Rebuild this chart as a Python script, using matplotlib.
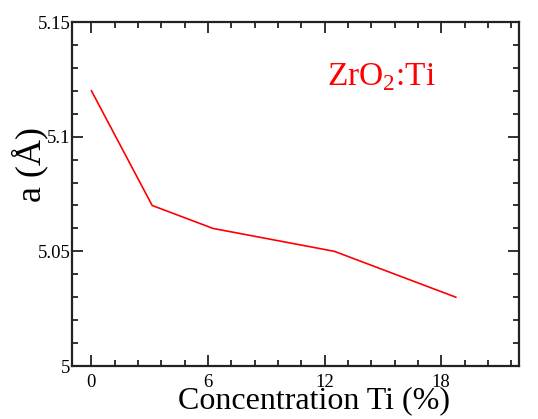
import matplotlib
matplotlib.use("Agg")
import matplotlib.pyplot as plt
from matplotlib.ticker import MultipleLocator

plt.rcParams['font.family'] = ['Liberation Serif', 'DejaVu Serif']
plt.rcParams['mathtext.fontset'] = 'custom'
plt.rcParams['mathtext.rm'] = 'Liberation Serif'

concentration = [0, 3.125, 6.25, 12.5, 18.75]
lattice_a = [5.12, 5.07, 5.06, 5.05, 5.03]
x_ticks = [0, 6, 12, 18]
y_ticks = [5, 5.05, 5.1, 5.15]
y_tick_labels = ["5", "5.05", "5.1", "5.15"]

W, H = 538, 419
fig = plt.figure(figsize=(W/100, H/100), dpi=100)
ax = fig.add_axes([72/W, 1-366/H, (519-72)/W, (366-22)/H])

ax.plot(concentration, lattice_a, color='red', lw=1.2)
ax.set_xlim(-1, 22)
ax.set_ylim(5, 5.15)
ax.set_xticks(x_ticks)
ax.set_xticklabels([str(t) for t in x_ticks])
ax.set_yticks(y_ticks)
ax.set_yticklabels(y_tick_labels)
ax.xaxis.set_minor_locator(MultipleLocator(1.2))
ax.yaxis.set_minor_locator(MultipleLocator(0.01))

for s in ax.spines.values():
    s.set_linewidth(1.6)
    s.set_color('#222222')
ax.tick_params(which='both', direction='in', top=True, right=True, width=1.3, color='#222222')
ax.tick_params(which='major', length=8, labelsize=13.5, pad=4)
ax.tick_params(which='minor', length=4.5)
ax.tick_params(axis='y', which='major', pad=1)
ax.tick_params(axis='x', which='major', pad=6)

fig.text(313.5/W, 1-408/H, "Concentration Ti (%)", fontsize=23,
         ha='center', va='baseline')
fig.text(30/W, 1-164/H, "a (Å)", fontsize=26, rotation=90,
         ha='center', va='center')

ax.text(0.57, 0.84, "ZrO$_2$:Ti", transform=ax.transAxes, color='red', fontsize=24,
        ha='left', va='center')

fig.savefig("out.png", dpi=100)
